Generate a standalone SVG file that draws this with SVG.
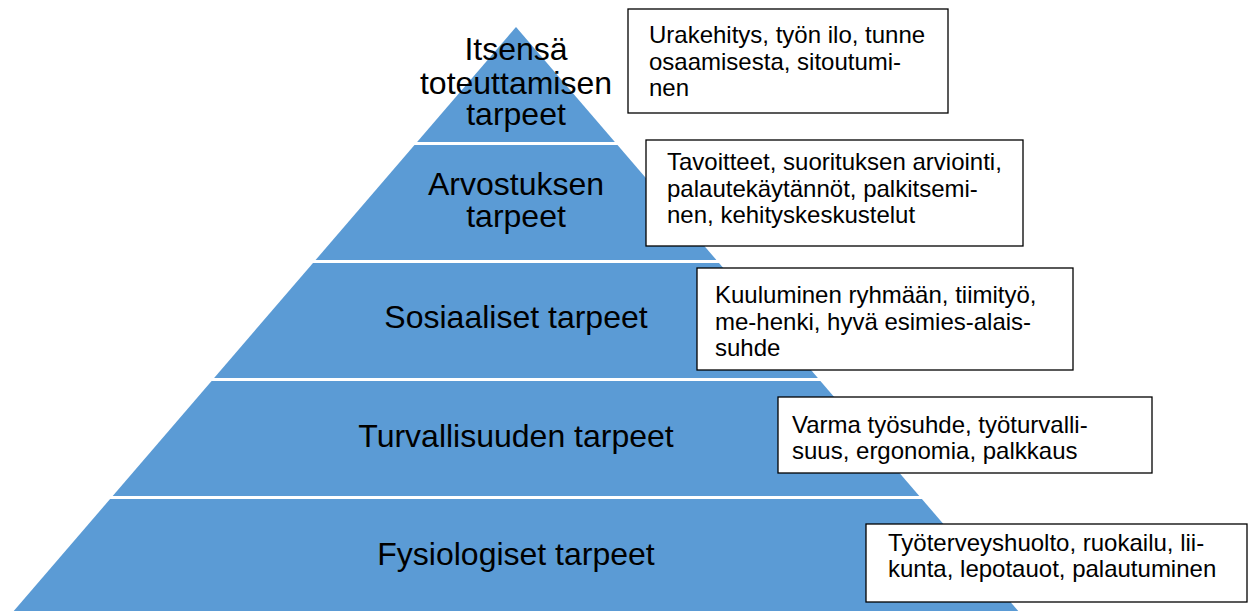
<svg xmlns="http://www.w3.org/2000/svg" width="1254" height="611" viewBox="0 0 1254 611">
<style>
.lvl{fill:#5B9BD5;}
.lbl{font-family:"Liberation Sans",Arial,sans-serif;font-size:32px;fill:#000;text-anchor:middle;}
.box{fill:#fff;stroke:#000;stroke-width:1.3;}
.txt{font-family:"Liberation Sans",Arial,sans-serif;font-size:24px;fill:#000;}
</style>
<rect width="1254" height="611" fill="#fff"/>
<g id="pyramid">
<g id="level1">
<polygon class="lvl" points="516,27 614.9,142 417.1,142"/>
<text class="lbl" x="516" y="60">Itsensä</text>
<text class="lbl" x="516" y="93.5">toteuttamisen</text>
<text class="lbl" x="516" y="124.5">tarpeet</text>
</g>
<g id="level2">
<polygon class="lvl" points="414.5,145 617.5,145 716.4,260 315.6,260"/>
<text class="lbl" x="516" y="195">Arvostuksen</text>
<text class="lbl" x="516" y="227">tarpeet</text>
</g>
<g id="level3">
<polygon class="lvl" points="313,263 719,263 817.9,378 214.1,378"/>
<text class="lbl" x="516" y="328">Sosiaaliset tarpeet</text>
</g>
<g id="level4">
<polygon class="lvl" points="211.6,381 820.4,381 919.3,496 112.7,496"/>
<text class="lbl" x="516" y="447">Turvallisuuden tarpeet</text>
</g>
<g id="level5">
<polygon class="lvl" points="110.1,499 921.9,499 1026,620 6,620"/>
<text class="lbl" x="516" y="565">Fysiologiset tarpeet</text>
</g>
</g>
<g id="box1">
<rect class="box" x="628" y="9" width="320" height="104"/>
<text class="txt" x="649" y="43.3">Urakehitys, työn ilo, tunne</text>
<text class="txt" x="649" y="69.8">osaamisesta, sitoutumi-</text>
<text class="txt" x="649" y="96.3">nen</text>
</g>
<g id="box2">
<rect class="box" x="646" y="140" width="377" height="106"/>
<text class="txt" x="667" y="170">Tavoitteet, suorituksen arviointi,</text>
<text class="txt" x="667" y="196.5">palautekäytännöt, palkitsemi-</text>
<text class="txt" x="667" y="223">nen, kehityskeskustelut</text>
</g>
<g id="box3">
<rect class="box" x="697" y="268" width="376" height="102"/>
<text class="txt" x="715" y="303.3">Kuuluminen ryhmään, tiimityö,</text>
<text class="txt" x="715" y="329.8">me-henki, hyvä esimies-alais-</text>
<text class="txt" x="715" y="356.3">suhde</text>
</g>
<g id="box4">
<rect class="box" x="778" y="397" width="374" height="76"/>
<text class="txt" x="792" y="433.3">Varma työsuhde, työturvalli-</text>
<text class="txt" x="792" y="459.3">suus, ergonomia, palkkaus</text>
</g>
<g id="box5">
<rect class="box" x="866" y="524" width="381" height="78"/>
<text class="txt" x="888" y="550.7">Työterveyshuolto, ruokailu, lii-</text>
<text class="txt" x="888" y="577">kunta, lepotauot, palautuminen</text>
</g>
</svg>
